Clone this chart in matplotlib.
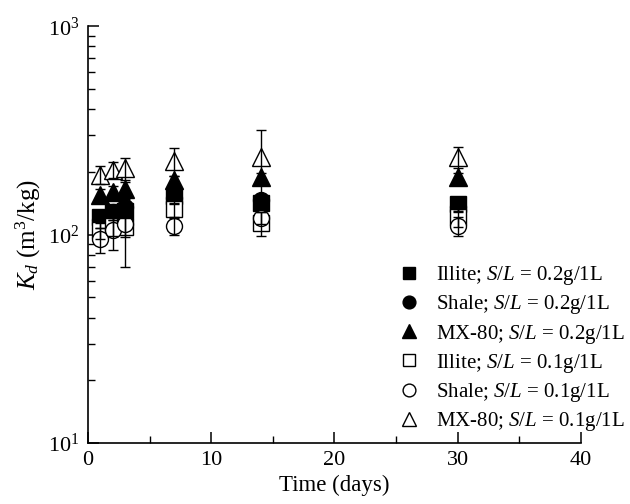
import matplotlib
matplotlib.use("Agg")
import matplotlib.pyplot as plt
from matplotlib.ticker import LogLocator, MultipleLocator, NullFormatter

plt.rcParams["font.family"] = ["Liberation Serif", "DejaVu Serif"]
plt.rcParams["mathtext.fontset"] = "custom"
plt.rcParams["mathtext.rm"] = "Liberation Serif"
plt.rcParams["mathtext.it"] = "Liberation Serif:italic"
plt.rcParams["mathtext.bf"] = "Liberation Serif:bold"

# Sampling times (days)
days = [1, 2, 3, 7, 14, 30]

# Distribution coefficients Kd (m^3/kg) and their standard deviations
illite_02 = [122, 128, 130, 154, 142, 140]
illite_02_err = [8, 10, 10, 8, 8, 10]
shale_02 = [118, 128, 136, 150, 147, 136]
shale_02_err = [10, 10, 12, 10, 8, 8]
mx80_02 = [155, 160, 166, 182, 190, 190]
mx80_02_err = [10, 12, 12, 10, 8, 8]
illite_01 = [105, 110, 109, 132, 114, 121]
illite_01_err = [10, 12, 12, 10, 15, 12]
shale_01 = [95, 105, 112, 110, 120, 110]
shale_01_err = [13, 21, 42, 10, 8, 12]
mx80_01 = [194, 205, 208, 226, 235, 236]
mx80_01_err = [20, 18, 25, 35, 83, 28]

labels = [
    "Illite; $S/L$ = 0.2g/1L",
    "Shale; $S/L$ = 0.2g/1L",
    "MX-80; $S/L$ = 0.2g/1L",
    "Illite; $S/L$ = 0.1g/1L",
    "Shale; $S/L$ = 0.1g/1L",
    "MX-80; $S/L$ = 0.1g/1L",
]

series = [
    (illite_02, illite_02_err, "s", "black", 11),
    (shale_02, shale_02_err, "o", "black", 11.5),
    (mx80_02, mx80_02_err, "^", "black", 13),
    (illite_01, illite_01_err, "s", "white", 11),
    (shale_01, shale_01_err, "o", "white", 11.5),
    (mx80_01, mx80_01_err, "^", "white", 13),
]

fig = plt.figure(figsize=(6.3, 5.04), dpi=100)
ax = fig.add_axes([0.1397, 0.121, 0.7825, 0.827])

handles = []
for (vals, err, mk, fc, ms), lab in zip(series, labels):
    ax.errorbar(days, vals, yerr=err, fmt="none", ecolor="black",
                elinewidth=1.0, capsize=3.5, capthick=1.0, zorder=3)
    h = ax.plot(days, vals, linestyle="none", marker=mk, markersize=ms,
                markerfacecolor=fc, markeredgecolor="black",
                markeredgewidth=1.0, zorder=2, label=lab)[0]
    handles.append(h)

ax.set_yscale("log")
ax.set_ylim(10, 1000)
ax.set_xlim(0, 40)
ax.xaxis.set_major_locator(MultipleLocator(10))
ax.xaxis.set_minor_locator(MultipleLocator(5))
ax.yaxis.set_major_locator(LogLocator(base=10))
ax.yaxis.set_minor_locator(LogLocator(base=10, subs=range(2, 10)))
ax.yaxis.set_minor_formatter(NullFormatter())

for side in ("top", "right"):
    ax.spines[side].set_visible(False)
for side in ("left", "bottom"):
    ax.spines[side].set_linewidth(1.2)

ax.tick_params(which="major", direction="in", length=8, width=1.1,
               labelsize=16, top=False, right=False, pad=6)
ax.tick_params(which="minor", direction="in", length=5, width=1.0,
               top=False, right=False)

ax.set_xlabel("Time (days)", fontsize=16.5, labelpad=3)
ax.set_ylabel("$K_d$ (m$^3$/kg)", fontsize=18, labelpad=4)

leg = ax.legend(handles=handles, loc="upper left",
                bbox_to_anchor=(399 / 630, 1 - 264 / 504),
                bbox_transform=fig.transFigure, frameon=False,
                fontsize=15, markerscale=0.8, handlelength=1.0,
                handletextpad=0.8, labelspacing=0.3, borderpad=0,
                borderaxespad=0)

fig.savefig("out.png", dpi=100)
